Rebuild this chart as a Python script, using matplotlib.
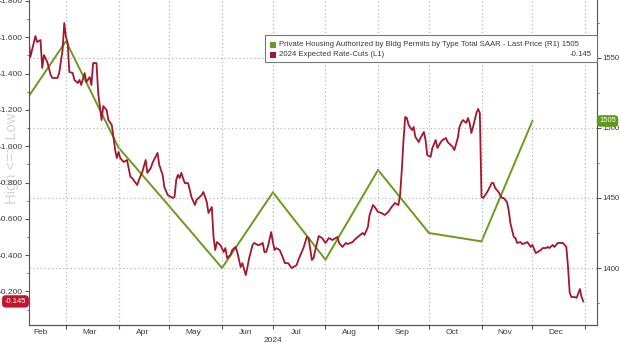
import numpy as np
import pandas as pd
import matplotlib
matplotlib.use("Agg")
import matplotlib.pyplot as plt
import matplotlib.dates as mdates
from matplotlib.patches import Rectangle

plt.rcParams['axes.unicode_minus'] = False
plt.rcParams['font.family'] = ['Liberation Sans', 'DejaVu Sans']

# ---------------- data ----------------
permit_dates = ['2024-02-01', '2024-03-01', '2024-04-01', '2024-05-01', '2024-06-01',
                '2024-07-01', '2024-08-01', '2024-09-01', '2024-10-01', '2024-11-01',
                '2024-12-01']
permit_values = [1510, 1562, 1486, 1444, 1400, 1454, 1406, 1470, 1425, 1419, 1505]

# day of year 2024 (Jan 1 = 1)
rate_days = [39, 40, 43, 44, 46, 47, 48, 50, 52, 53, 56, 57, 59, 60, 61, 62, 63, 65, 66, 68,
             69, 70, 72, 73, 75, 76, 77, 79, 80, 81, 82, 83, 85, 86, 88, 89, 90, 91, 92, 93,
             95, 97, 99, 100, 103, 104, 106, 108, 109, 111, 112, 115, 116, 118, 119, 121, 124, 125, 126, 127,
             128, 129, 131, 133, 135, 137, 138, 141, 142, 144, 145, 147, 148, 149, 150, 152,
             154, 155, 156, 158, 159, 161, 162, 164, 165, 167, 168, 169, 171, 172, 174, 175, 177, 178, 179, 180,
             182, 183, 184, 185, 187, 189, 190, 192, 194, 195, 197, 198, 201, 203, 204, 206, 207, 208, 210, 212,
             214, 216,
             217, 218, 221, 222, 224, 226, 227, 230, 231, 233, 236, 237, 239, 240, 242, 243, 245, 247, 249, 251,
             253, 255, 257, 258, 259, 260, 261, 262, 263, 265, 266, 267, 269, 270, 272, 273, 274, 276,
             277, 279, 280, 282, 283, 285, 286, 289, 290, 292, 293, 294, 295, 297, 298, 299, 300, 301, 303, 304,
             305, 306, 307, 309, 310, 312, 313, 314, 315, 316, 318, 319, 321, 322, 323, 325, 326, 327, 329, 330,
             332, 333, 335, 336, 338, 339,
             341, 342, 344, 345, 346, 348, 349, 351, 352, 354, 356, 357, 358, 359, 361, 362, 364, 365, 366]
rate_values = [-1.596, -1.491, -1.607, -1.574, -1.585, -1.431, -1.502, -1.464, -1.392, -1.376,
               -1.376, -1.403, -1.530, -1.679, -1.602, -1.569, -1.409, -1.403, -1.365, -1.348,
               -1.365, -1.337, -1.403, -1.354, -1.381, -1.337, -1.458, -1.458, -1.293, -1.216,
               -1.144, -1.221, -1.199, -1.144, -1.117, -1.051, -0.979, -0.935, -0.968, -0.935,
               -0.913, -0.924, -0.831, -0.825, -0.786, -0.814, -0.858, -0.924, -0.853, -0.880,
               -0.908, -0.963, -0.897, -0.842, -0.775, -0.731, -0.715, -0.720, -0.814, -0.842,
               -0.825, -0.853, -0.797, -0.797, -0.720, -0.676, -0.704, -0.731, -0.748, -0.693,
               -0.632, -0.665, -0.500, -0.428, -0.472, -0.456,
               -0.417, -0.439, -0.384, -0.401, -0.428, -0.445, -0.417, -0.334, -0.356, -0.290,
               -0.334, -0.384, -0.456, -0.467, -0.456, -0.456, -0.467, -0.417, -0.417, -0.445,
               -0.527, -0.472, -0.428, -0.439, -0.428, -0.384, -0.356, -0.356, -0.329, -0.334,
               -0.345, -0.373, -0.439, -0.500, -0.494, -0.373, -0.384, -0.428, -0.505, -0.494,
               -0.467, -0.494,
               -0.489, -0.483, -0.500, -0.467, -0.445, -0.467, -0.461, -0.472, -0.483, -0.500,
               -0.522, -0.511, -0.555, -0.621, -0.676, -0.665, -0.638, -0.632, -0.621, -0.638,
               -0.665, -0.687, -0.676, -0.731, -0.869, -1.034, -1.161, -1.155, -1.117, -1.089,
               -1.106, -1.051, -1.023, -1.045, -1.078, -1.034, -0.951, -0.941,
               -0.990, -1.034, -0.990, -1.023, -1.034, -1.045, -1.023, -0.996, -0.979, -1.045,
               -1.106, -1.128, -1.144, -1.128, -1.155, -1.128, -1.073, -1.106, -1.183, -1.205,
               -1.183, -0.720, -0.715, -0.742, -0.759, -0.797, -0.797, -0.770, -0.759, -0.748,
               -0.715, -0.715, -0.693, -0.648, -0.577, -0.500, -0.494, -0.467, -0.472, -0.461,
               -0.467, -0.472, -0.445, -0.456, -0.411, -0.417,
               -0.428, -0.439, -0.439, -0.445, -0.439, -0.456, -0.445, -0.467, -0.467, -0.467,
               -0.445, -0.334, -0.191, -0.169, -0.169, -0.164, -0.213, -0.169, -0.145]

year_label = '2024'
legend_permits = 'Private Housing Authorized by Bldg Permits by Type Total SAAR - Last Price (R1)'
legend_rates = '2024 Expected Rate-Cuts (L1)'
last_permit = '1505'
last_rate = '-0.145'
left_axis_label = 'High <=> Low'

# ---------------- figure ----------------
W, H = 620, 347
fig = plt.figure(figsize=(W / 100, H / 100), dpi=100)
fig.patch.set_facecolor('white')

def fx(px):
    return px / W

def fy(py):
    return 1 - py / H

# faint left-axis description, drawn behind everything
fig.text(fx(12), fy(158), left_axis_label, rotation=90, fontsize=10.5, color='#d4d4d4',
         ha='center', va='center', zorder=0)

ax1 = fig.add_axes([fx(29), fy(325), fx(597) - fx(29), fy(0) - fy(325)])
ax2 = ax1.twinx()
ax1.set_zorder(ax2.get_zorder() + 1)
ax1.patch.set_visible(False)
ax2.patch.set_visible(False)

RED = '#a3172f'
GREEN = '#6b9a1c'
TXT = '#3a3a3a'
SPINE = '#555555'
GRID = '#b8b8b8'

rate_dates = pd.Timestamp('2024-01-01') + pd.to_timedelta(np.array(rate_days) - 1, unit='D')
p_dates = pd.to_datetime(permit_dates)

ax2.plot(p_dates, permit_values, color=GREEN, lw=1.4, solid_joinstyle='miter')
ax1.plot(rate_dates, rate_values, color=RED, lw=1.3)

xmin = pd.Timestamp('2024-02-08 05:00')
xmax = pd.Timestamp('2025-01-08 02:00')
ax1.set_xlim(xmin, xmax)
ax2.set_xlim(xmin, xmax)

ax1.set_ylim(-0.015, -1.8055)
ax2.set_ylim(1359.3, 1591.4)

# left axis ticks
ax1.set_yticks(np.arange(-1.8, -0.15, 0.2))
ax1.set_yticks(np.arange(-1.8, 0.0, 0.1), minor=True)
ax1.yaxis.set_major_formatter(matplotlib.ticker.FuncFormatter(lambda v, p: f'{v:.3f}'))
ax1.tick_params(axis='y', which='major', length=3, width=0.8, color=SPINE,
                labelsize=6, labelcolor=TXT, pad=1.5)
ax1.tick_params(axis='y', which='minor', length=1.5, width=0.6, color=SPINE)

# right axis ticks
ax2.set_yticks([1400, 1450, 1500, 1550])
ax2.set_yticks(np.arange(1375, 1600, 25), minor=True)
ax2.tick_params(axis='y', which='major', length=3, width=0.8, color=SPINE,
                labelsize=5.6, labelcolor=TXT, pad=1.2)
ax2.tick_params(axis='y', which='minor', length=1.5, width=0.6, color=SPINE)
ax2.yaxis.grid(True, which='major', ls=(0, (1, 2)), color=GRID, lw=0.9)

# x axis: month boundaries (ticks + grid) and month names in the middle
ax1.xaxis.set_major_locator(mdates.MonthLocator())
ax1.xaxis.set_major_formatter(matplotlib.ticker.NullFormatter())
ax1.xaxis.set_minor_locator(mdates.MonthLocator(bymonthday=15))
ax1.xaxis.set_minor_formatter(matplotlib.ticker.FuncFormatter(
    lambda v, p: mdates.num2date(v).strftime('%b')))
ax1.tick_params(axis='x', which='major', length=3, width=0.8, color=SPINE)
ax1.tick_params(axis='x', which='minor', length=0, labelsize=6, labelcolor=TXT, pad=3)
ax1.xaxis.grid(True, which='major', ls=(0, (1, 2)), color=GRID, lw=0.9)

for a in (ax1, ax2):
    a.spines['top'].set_visible(False)
    for s in ('left', 'right', 'bottom'):
        a.spines[s].set_color(SPINE)
        a.spines[s].set_linewidth(0.8)
ax1.spines['right'].set_visible(False)
ax2.spines['left'].set_visible(False)

# year label under July
ax1.text(pd.Timestamp('2024-07-01'), fy(340), year_label,
         transform=matplotlib.transforms.blended_transform_factory(ax1.transData, fig.transFigure),
         fontsize=6, color=TXT, ha='center', va='center')

# last-value tags
ax1.annotate(last_rate, xy=(0, rate_values[-1]), xycoords=('axes fraction', 'data'),
             xytext=(-2, 0), textcoords='offset points', ha='right', va='center',
             fontsize=5.5, color='white', annotation_clip=False,
             bbox=dict(boxstyle='round,pad=0.35,rounding_size=0.5', fc='#c3142d', ec='none'))
ax2.annotate(last_permit, xy=(1, permit_values[-1]), xycoords=('axes fraction', 'data'),
             xytext=(1.5, 0), textcoords='offset points', ha='left', va='center',
             fontsize=5.5, color='white', annotation_clip=False,
             bbox=dict(boxstyle='round,pad=0.3,rounding_size=0.5', fc='#5f9a1a', ec='none'))

# legend box
fig.patches.append(Rectangle((fx(265), fy(62)), fx(597) - fx(265), fy(35) - fy(62),
                             transform=fig.transFigure, fc='white', ec='#777777', lw=0.8,
                             zorder=10))
for row_y, col, label in [(45, GREEN, legend_permits + ' ' + last_permit),
                          (54.5, RED, legend_rates)]:
    fig.patches.append(Rectangle((fx(270), fy(row_y + 3)), fx(6), 6 / H,
                                 transform=fig.transFigure, fc=col, ec='none', zorder=11))
    fig.text(fx(279), fy(row_y), label, fontsize=5.6, color=TXT, ha='left', va='center', zorder=12)
fig.text(fx(592), fy(54.5), last_rate, fontsize=5.6, color=TXT, ha='right', va='center', zorder=12)

fig.savefig('out.png', dpi=100, facecolor='white')
